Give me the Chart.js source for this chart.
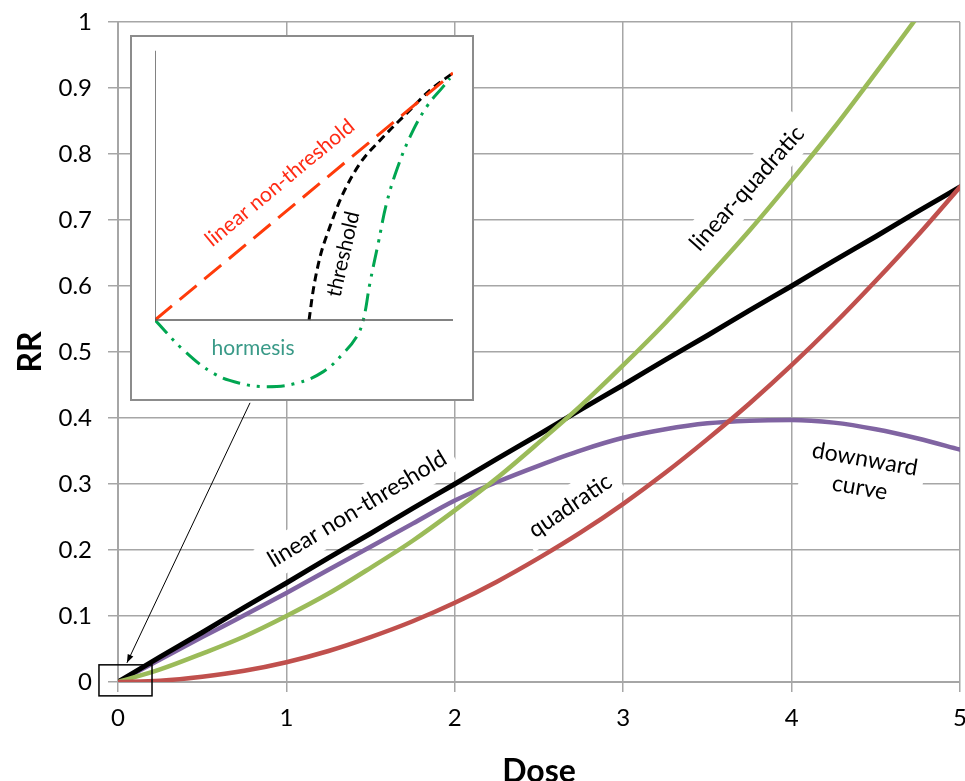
<!DOCTYPE html>
<html>
<head>
<meta charset="utf-8">
<script src="https://cdn.jsdelivr.net/npm/chart.js@4.4.1/dist/chart.umd.min.js"></script>
<style>
  html, body { margin: 0; padding: 0; background: #fff; }
  #wrap { position: relative; width: 965px; height: 781px; overflow: hidden; }
  #inset { position: absolute; left: 130px; top: 35px; width: 340px; height: 362px;
           border: 2px solid #8c8c8c; background: #fff; }
  canvas { display: block; }
</style>
</head>
<body>
<div id="wrap">
  <canvas id="mainChart" width="965" height="781"></canvas>
  <div id="inset"><canvas id="insetChart" width="340" height="362"></canvas></div>
</div>
<script>
const FONT = 'Lato, "Open Sans", sans-serif';

// main chart values
const dose = [0, 0.25, 0.5, 0.75, 1, 1.25, 1.5, 1.75, 2, 2.25, 2.5, 2.75, 3, 3.25, 3.5, 3.75, 4, 4.25, 4.5, 4.75, 5];
const linearNT = [0, 0.038, 0.075, 0.113, 0.15, 0.188, 0.225, 0.263, 0.3, 0.338, 0.375, 0.413, 0.45, 0.488, 0.525, 0.563, 0.6, 0.638, 0.675, 0.713, 0.75];
const linearQuad = [0, 0.019, 0.043, 0.069, 0.1, 0.134, 0.173, 0.214, 0.26, 0.309, 0.363, 0.419, 0.48, 0.544, 0.613, 0.684, 0.76, 0.839, 0.923, 1.009, 1.1];
const quadratic = [0, 0.002, 0.008, 0.017, 0.03, 0.047, 0.068, 0.092, 0.12, 0.152, 0.188, 0.227, 0.27, 0.317, 0.368, 0.422, 0.48, 0.542, 0.608, 0.677, 0.75];
const downward = [0, 0.034, 0.068, 0.101, 0.135, 0.17, 0.205, 0.24, 0.275, 0.303, 0.328, 0.351, 0.37, 0.383, 0.392, 0.396, 0.397, 0.393, 0.383, 0.369, 0.352];

const xTickLabels = ['0', '1', '2', '3', '4', '5'];
const yTickLabels = ['0', '0.1', '0.2', '0.3', '0.4', '0.5', '0.6', '0.7', '0.8', '0.9', '1'];

// inset (schematic) values, in inset units
const lntX = [0, 1];
const lntY = [0, 1];
const threshX = [0.517, 0.531, 0.554, 0.587, 0.626, 0.688, 0.761, 0.845, 0.923, 0.999];
const threshY = [0, 0.121, 0.256, 0.378, 0.499, 0.634, 0.735, 0.837, 0.931, 0.999];
const hormX = [0, 0.095, 0.196, 0.285, 0.375, 0.475, 0.565, 0.632, 0.677, 0.699, 0.721, 0.749, 0.777, 0.811, 0.856, 0.912, 0.967, 0.99];
const hormY = [0, -0.121, -0.216, -0.256, -0.27, -0.256, -0.209, -0.135, -0.067, 0, 0.148, 0.31, 0.472, 0.607, 0.742, 0.864, 0.945, 0.979];
const axisX = [0, 0, 1];
const axisY = [1.09, 0, 0];

function pts(xs, ys) {
  return xs.map((x, i) => ({ x: x, y: ys[i] }));
}

// text labels on the main chart
const mainLabels = [
  { lines: ['linear non-threshold'], dose: 1.42, rr: 0.262, angle: -31 },
  { lines: ['quadratic'], dose: 2.685, rr: 0.267, angle: -34 },
  { lines: ['linear-quadratic'], dose: 3.735, rr: 0.748, angle: -48 },
  { lines: ['downward', 'curve'], dose: 4.42, rr: 0.316, angle: 10 }
];

function drawRotated(ctx, px, py, angle, lines, font, color, boxed) {
  ctx.save();
  ctx.translate(px, py);
  ctx.rotate(angle * Math.PI / 180);
  ctx.font = font;
  ctx.textAlign = 'center';
  ctx.textBaseline = 'middle';
  const lh = 29;
  const w = Math.max(...lines.map(t => ctx.measureText(t).width));
  const h = lh * lines.length;
  if (boxed) {
    ctx.fillStyle = '#fff';
    ctx.fillRect(-w / 2 - 8, -h / 2 - 4, w + 16, h + 8);
  }
  ctx.fillStyle = color;
  lines.forEach((t, i) => ctx.fillText(t, 0, -h / 2 + lh / 2 + i * lh));
  ctx.restore();
}

const mainNotes = {
  id: 'mainNotes',
  beforeDatasetsDraw(chart) {
    const { ctx, scales: { x, y } } = chart;
    mainLabels.forEach(l => {
      drawRotated(ctx, x.getPixelForValue(l.dose), y.getPixelForValue(l.rr), l.angle, l.lines,
        '23px ' + FONT, '#000', true);
    });
  },
  afterDraw(chart) {
    const { ctx, scales: { x, y } } = chart;
    ctx.save();
    // small box round the origin
    const x0 = x.getPixelForValue(-0.113), x1 = x.getPixelForValue(0.202);
    const y0 = y.getPixelForValue(0.026), y1 = y.getPixelForValue(-0.021);
    ctx.strokeStyle = '#000';
    ctx.lineWidth = 1.5;
    ctx.strokeRect(x0, y0, x1 - x0, y1 - y0);
    // arrow from the inset down to the box
    const ax = x.getPixelForValue(0.784), ay = y.getPixelForValue(0.423);
    const bx = x.getPixelForValue(0.053), by = y.getPixelForValue(0.029);
    ctx.lineWidth = 1;
    ctx.beginPath();
    ctx.moveTo(ax, ay);
    ctx.lineTo(bx, by);
    ctx.stroke();
    const a = Math.atan2(by - ay, bx - ax);
    ctx.fillStyle = '#000';
    ctx.beginPath();
    ctx.moveTo(bx, by);
    ctx.lineTo(bx - 9 * Math.cos(a - 0.35), by - 9 * Math.sin(a - 0.35));
    ctx.lineTo(bx - 9 * Math.cos(a + 0.35), by - 9 * Math.sin(a + 0.35));
    ctx.closePath();
    ctx.fill();
    ctx.restore();
  }
};

const tickFont = { family: FONT, size: 24 };

new Chart(document.getElementById('mainChart').getContext('2d'), {
  type: 'line',
  data: {
    datasets: [
      { label: 'quadratic', data: pts(dose, quadratic), borderColor: '#c0504d', borderWidth: 4.5, order: 0 },
      { label: 'linear-quadratic', data: pts(dose, linearQuad), borderColor: '#9bbb59', borderWidth: 4.5, order: 1 },
      { label: 'linear non-threshold', data: pts(dose, linearNT), borderColor: '#000000', borderWidth: 5, order: 2 },
      { label: 'downward curve', data: pts(dose, downward), borderColor: '#8064a2', borderWidth: 4.5, order: 3 }
    ]
  },
  options: {
    responsive: false,
    animation: false,
    layout: { padding: { top: 22, right: 5, left: 0, bottom: 0 } },
    plugins: { legend: { display: false }, tooltip: { enabled: false } },
    elements: {
      point: { radius: 0 },
      line: { cubicInterpolationMode: 'monotone', borderCapStyle: 'round', fill: false }
    },
    scales: {
      x: {
        type: 'linear', min: 0, max: 5,
        ticks: { stepSize: 1, padding: 12, color: '#000', font: tickFont, callback: (v, i) => xTickLabels[i] },
        grid: { color: '#a6a6a6', lineWidth: 1.5, tickLength: 10 },
        border: { color: '#a6a6a6', width: 2 },
        title: { display: true, text: 'Dose', color: '#000', font: { family: FONT, size: 32, weight: 'bold' }, padding: { top: 0, bottom: -10 } },
        afterFit: s => { s.height = 99; s.paddingLeft = 0; s.paddingRight = 0; }
      },
      y: {
        type: 'linear', min: 0, max: 1,
        ticks: { stepSize: 0.1, padding: 16, color: '#000', font: tickFont, callback: (v, i) => yTickLabels[i] },
        grid: { color: '#a6a6a6', lineWidth: 1.5, tickLength: 10 },
        border: { color: '#a6a6a6', width: 2 },
        title: { display: true, text: 'RR', color: '#000', font: { family: FONT, size: 32, weight: 'bold' }, padding: { top: 11, bottom: 0 } },
        afterFit: s => { s.width = 118; s.paddingTop = 0; s.paddingBottom = 0; }
      }
    }
  },
  plugins: [mainNotes]
});

// inset labels
const insetLabels = [
  { text: 'linear non-threshold', x: 0.419, y: 0.555, angle: -39.6, color: '#ff2a14' },
  { text: 'threshold', x: 0.632, y: 0.267, angle: -77, color: '#000' },
  { text: 'hormesis', x: 0.329, y: -0.113, angle: 0, color: '#3a9a88' }
];

const insetNotes = {
  id: 'insetNotes',
  afterDatasetsDraw(chart) {
    const { ctx, scales: { x, y } } = chart;
    insetLabels.forEach(l => {
      drawRotated(ctx, x.getPixelForValue(l.x), y.getPixelForValue(l.y), l.angle, [l.text],
        '21px ' + FONT, l.color, false);
    });
  }
};

new Chart(document.getElementById('insetChart').getContext('2d'), {
  type: 'line',
  data: {
    datasets: [
      { data: pts(axisX, axisY), borderColor: '#595959', borderWidth: 1.5, tension: 0 },
      { data: pts(lntX, lntY), borderColor: '#ff3b0a', borderWidth: 3, borderDash: [22, 10], tension: 0 },
      { data: pts(threshX, threshY), borderColor: '#000', borderWidth: 3, borderDash: [8, 5], cubicInterpolationMode: 'monotone' },
      { data: pts(hormX, hormY), borderColor: '#00a651', borderWidth: 3, borderDash: [18, 7, 3, 7, 3, 7], tension: 0.4 }
    ]
  },
  options: {
    responsive: false,
    animation: false,
    layout: { padding: { left: 23, right: 19, top: 11.3, bottom: 4.9 } },
    plugins: { legend: { display: false }, tooltip: { enabled: false } },
    elements: { point: { radius: 0 }, line: { fill: false } },
    scales: {
      x: { type: 'linear', min: 0, max: 1, display: false },
      y: { type: 'linear', min: -0.3, max: 1.1, display: false }
    }
  },
  plugins: [insetNotes]
});
</script>
</body>
</html>
